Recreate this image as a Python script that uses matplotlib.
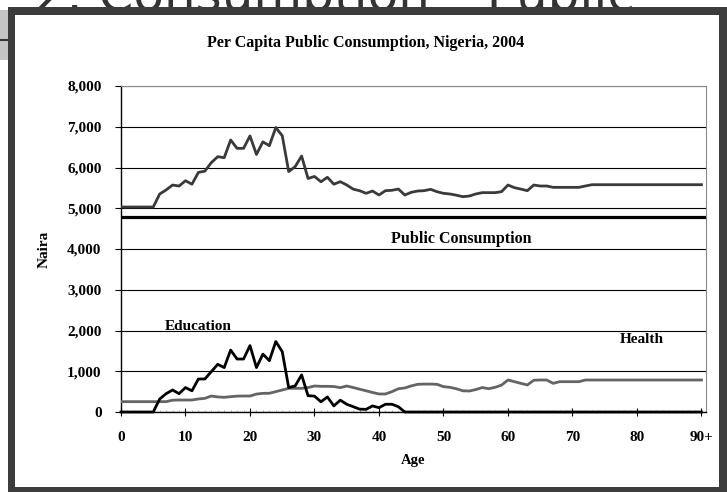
import matplotlib
matplotlib.use("Agg")
import matplotlib.pyplot as plt
from matplotlib.patches import Rectangle
import numpy as np

# ---- data (per capita, naira) ----
ages = np.arange(0, 91)

public_consumption = 4780

total = [
    5030, 5030, 5030, 5030, 5030, 5030, 5350, 5450, 5570, 5545,
    5676, 5590, 5880, 5910, 6120, 6265, 6240, 6675, 6470, 6470,
    6775, 6320, 6630, 6535, 6980, 6780, 5900, 6020, 6282, 5730,
    5780, 5650, 5760, 5590, 5652, 5570, 5470, 5430, 5366, 5423,
    5325, 5431, 5440, 5472, 5325, 5391, 5423, 5431, 5464, 5406,
    5366, 5350, 5320, 5284, 5300, 5350, 5383, 5383, 5383, 5407,
    5570, 5505, 5470, 5431, 5570, 5546, 5546, 5513, 5513, 5513,
    5513, 5513, 5546, 5578, 5578, 5578, 5578, 5578, 5578, 5578,
    5578, 5578, 5578, 5578, 5578, 5578, 5578, 5578, 5578, 5578,
    5578,
]

education = [
    0, 0, 0, 0, 0, 0, 320, 450, 540, 450,
    600, 520, 810, 810, 990, 1170, 1090, 1520, 1300, 1300,
    1630, 1090, 1420, 1260, 1730, 1480, 600, 640, 910, 400,
    390, 250, 370, 150, 290, 190, 130, 70, 65, 150,
    105, 190, 190, 130, 0, 0, 0, 0, 0, 0,
    0, 0, 0, 0, 0, 0, 0, 0, 0, 0,
    0, 0, 0, 0, 0, 0, 0, 0, 0, 0,
    0, 0, 0, 0, 0, 0, 0, 0, 0, 0,
    0, 0, 0, 0, 0, 0, 0, 0, 0, 0,
    0,
]

health = [
    254, 254, 254, 254, 254, 254, 254, 254, 290, 294,
    294, 294, 320, 335, 392, 370, 360, 376, 390, 392,
    392, 440, 458, 460, 499, 540, 581, 581, 581, 600,
    638, 630, 630, 625, 597, 638, 600, 560, 520, 480,
    442, 442, 499, 570, 590, 640, 680, 685, 685, 679,
    622, 605, 570, 520, 515, 550, 600, 572, 605, 660,
    785, 744, 703, 663, 780, 785, 785, 703, 744, 744,
    744, 744, 785, 785, 785, 785, 785, 785, 785, 785,
    785, 785, 785, 785, 785, 785, 785, 785, 785, 785,
    785,
]

x_ticks = [0, 10, 20, 30, 40, 50, 60, 70, 80, 90]
x_ticklabels = ["0", "10", "20", "30", "40", "50", "60", "70", "80", "90+"]
y_ticks = [0, 1000, 2000, 3000, 4000, 5000, 6000, 7000, 8000]

W, H = 727, 492
SERIF = ["Liberation Serif", "DejaVu Serif"]


def fx(px):
    return px / W


def fy(py):
    return 1 - py / H


fig = plt.figure(figsize=(W / 100, H / 100), dpi=100)
fig.patch.set_facecolor("white")

# slide background bits: big header partly hidden behind the chart frame
fig.text(fx(35), fy(11), "2. Consumption \u2013 Public", fontsize=36,
         family="DejaVu Sans", color="#333333", ha="left", va="baseline",
         zorder=0.5)
fig.patches.append(Rectangle((0, fy(60)), fx(8), fy(10) - fy(60),
                             transform=fig.transFigure, facecolor="#c4c4c4",
                             edgecolor="none", zorder=0.6))
fig.patches.append(Rectangle((0, fy(41)), fx(8), fy(39) - fy(41),
                             transform=fig.transFigure, facecolor="#333333",
                             edgecolor="none", zorder=0.7))
fig.patches.append(Rectangle((fx(8), 0), 1 - fx(8), fy(7),
                             transform=fig.transFigure, facecolor="#3c3c3c",
                             edgecolor="none", zorder=1))
fig.patches.append(Rectangle((fx(15), fy(487)), fx(719) - fx(15),
                             fy(15) - fy(487), transform=fig.transFigure,
                             facecolor="white", edgecolor="none", zorder=1.1))

ax = fig.add_axes([fx(121), fy(412), fx(706) - fx(121), fy(86) - fy(412)])
ax.set_zorder(2)
ax.patch.set_alpha(0)

ax.plot(ages, total, color="#3a3a3a", lw=2.0, zorder=3)
ax.axhline(public_consumption, color="black", lw=2.3, zorder=3)
ax.plot(ages, health, color="#646464", lw=2.0, zorder=3)
ax.plot(ages, education, color="black", lw=2.0, zorder=4, clip_on=False)

ax.set_xlim(0, 90.7)
ax.set_ylim(0, 8000)
ax.set_axisbelow(True)
ax.yaxis.grid(True, color="black", lw=0.8)

ax.set_yticks(y_ticks)
ax.set_yticklabels([f"{v:,}" for v in y_ticks])
ax.set_xticks(x_ticks)
ax.set_xticklabels(x_ticklabels)
ax.set_xticks(ages, minor=True)

ax.tick_params(axis="y", direction="out", length=4, width=0.8, pad=10)
ax.tick_params(axis="x", which="major", direction="inout", length=6,
               width=0.8, pad=11)
ax.tick_params(axis="x", which="minor", direction="in", length=1.5,
               width=0.4, color="#777777")
for lab in ax.get_xticklabels() + ax.get_yticklabels():
    lab.set_family(SERIF)
    lab.set_fontweight("bold")
    lab.set_fontsize(11)

for side in ("top", "right"):
    ax.spines[side].set_color("#8a8a8a")
    ax.spines[side].set_linewidth(0.8)
for side in ("left", "bottom"):
    ax.spines[side].set_color("black")
    ax.spines[side].set_linewidth(1.0)

ax.set_ylabel("Naira", family=SERIF, fontweight="bold", fontsize=11)
ax.yaxis.set_label_coords(-0.12, 0.5)
ax.set_xlabel("Age", family=SERIF, fontweight="bold", fontsize=10.5)
ax.xaxis.set_label_coords(0.5, -0.13)

fig.text(fx(366), fy(43), "Per Capita Public Consumption, Nigeria, 2004",
         family=SERIF, fontweight="bold", fontsize=11.5, ha="center",
         va="center", zorder=3)

ax.text(52.7, 4245, "Public Consumption", family=SERIF, fontweight="bold",
        fontsize=11.5, ha="center", va="center")
ax.text(6.8, 2086, "Education", family=SERIF, fontweight="bold",
        fontsize=11, ha="left", va="center")
ax.text(77.4, 1791, "Health", family=SERIF, fontweight="bold",
        fontsize=11, ha="left", va="center")

fig.savefig("out.png", dpi=100)
